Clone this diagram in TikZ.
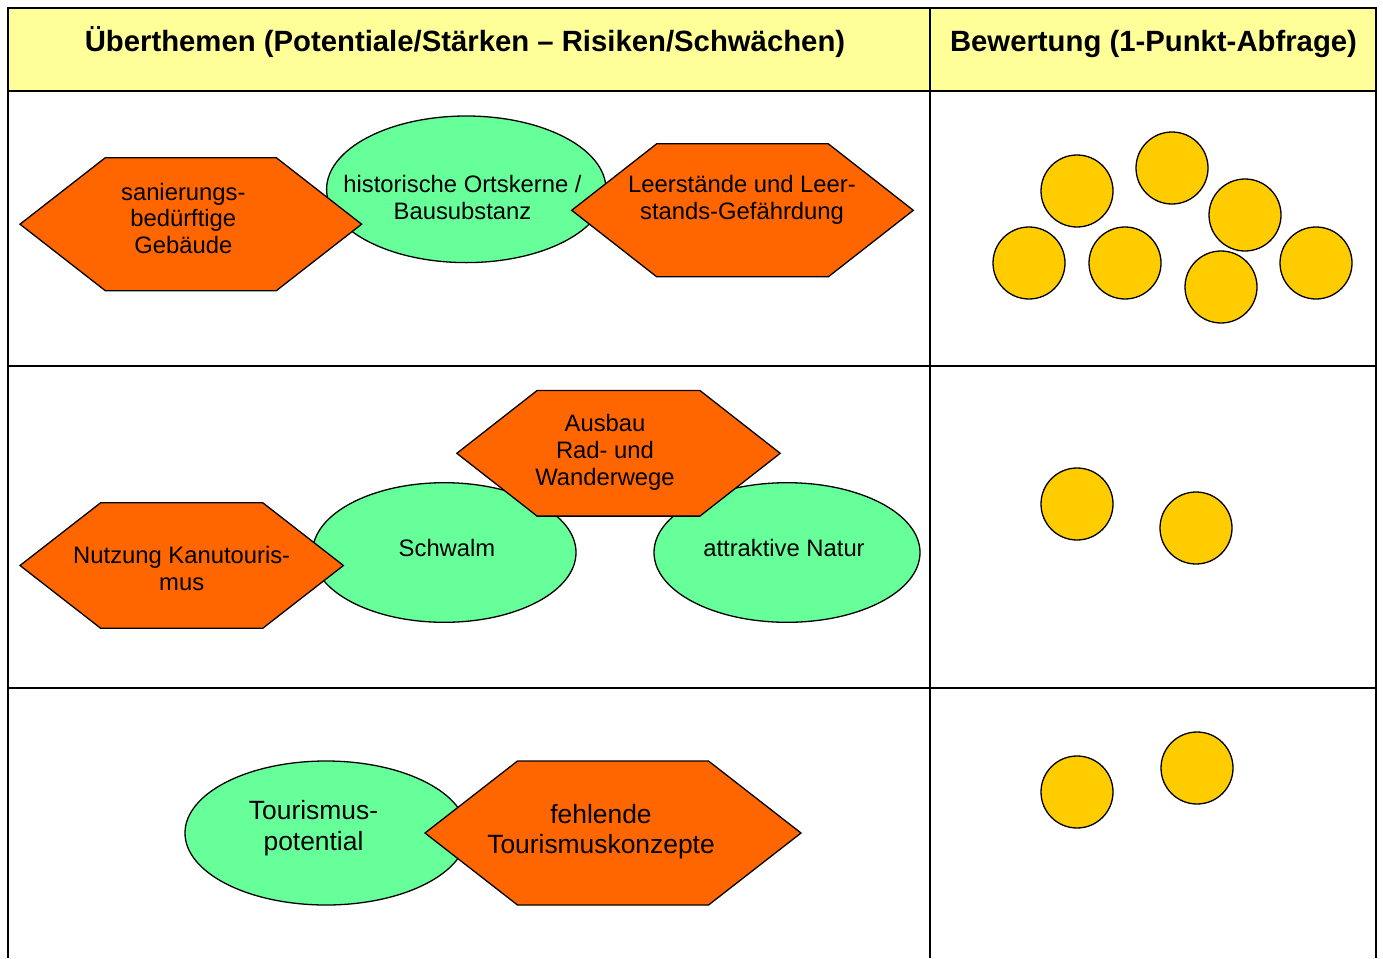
\documentclass[tikz,border=0pt]{standalone}
\usepackage{fontspec}
\setmainfont{Liberation Sans}
\begin{document}
\begin{tikzpicture}[x=1pt,y=-1pt,
  grid/.style={line width=2.2pt,draw=black},
  hdr/.style={font=\bfseries\fontsize{29.3}{33}\selectfont,inner sep=0pt,anchor=base},
  lbl/.style={font=\fontsize{23.8}{26.8}\selectfont,align=center,inner sep=0pt},
  lblbig/.style={font=\fontsize{26.4}{30.5}\selectfont,align=center,inner sep=0pt},
  risk/.style={fill=riskcol,draw=black,line width=1.3pt,line join=miter},
  pot/.style={fill=potcol,draw=black,line width=1.3pt},
  dot/.style={circle,fill=dotcol,draw=black,line width=1.3pt,minimum size=72pt,inner sep=0pt}]
\definecolor{riskcol}{HTML}{FF6600}
\definecolor{potcol}{HTML}{66FF99}
\definecolor{dotcol}{HTML}{FFCC00}
\definecolor{hdrcol}{HTML}{FFFF99}
\newcommand{\hexfill}[5]{% cx cy halfwidth halfheight inset
  \filldraw[risk] ({#1-#3},#2) -- ({#1-#3+#5},{#2-#4}) -- ({#1+#3-#5},{#2-#4})
    -- ({#1+#3},#2) -- ({#1+#3-#5},{#2+#4}) -- ({#1-#3+#5},{#2+#4}) -- cycle;}
\useasboundingbox (0,0) rectangle (1383,958);
\fill[white] (0,0) rectangle (1383,958);
% header
\fill[hdrcol] (8,8) rectangle (1376,91);
% table grid
\draw[grid] (8,958) -- (8,8) -- (1376,8) -- (1376,958);
\draw[grid] (930,8) -- (930,958);
\draw[grid] (8,91) -- (1376,91);
\draw[grid] (8,366) -- (1376,366);
\draw[grid] (8,688) -- (1376,688);
\node[hdr] (h1) at (465,51.5) {Überthemen (Potentiale/Stärken – Risiken/Schwächen)};
\node[hdr] (h2) at (1153.5,51.5) {Bewertung (1-Punkt-Abfrage)};
% row 1
\filldraw[pot] (466.3,189.3) ellipse [x radius=139.7,y radius=73.3];
\hexfill{190.8}{224.2}{170.8}{66.5}{85.3}
\hexfill{742.5}{210.3}{170.8}{66.5}{85}
\node[lbl] (t1) at (183.3,218.3) {sanierungs-\\bedürftige\\Gebäude};
\node[lbl] (t2) at (462.5,197.5) {historische Ortskerne /\\Bausubstanz};
\node[lbl] (t3) at (742,199.5) {Leerstände und Leer-\\stands-Gefährdung};
% row 2
\filldraw[pot] (444.3,552.5) ellipse [x radius=131.7,y radius=69.8];
\filldraw[pot] (787,552.5) ellipse [x radius=133,y radius=69.8];
\hexfill{618.5}{453.3}{161.7}{62.8}{80.3}
\hexfill{181.7}{565.5}{161.7}{62.8}{80.7}
\node[lbl] (t4) at (605,452.5) {Ausbau\\Rad- und\\Wanderwege};
\node[lbl] (t5) at (181.7,568.5) {Nutzung Kanutouris-\\mus};
\node[lbl] (t6) at (447,547.7) {Schwalm};
\node[lbl] (t7) at (784,548) {attraktive Natur};
% row 3
\filldraw[pot] (326,833) ellipse [x radius=141,y radius=72];
\hexfill{613}{833}{188}{72}{92.5}
\node[lblbig] (t8) at (313.5,828) {Tourismus-\\potential};
\node[lblbig] (t9) at (601,831.5) {fehlende\\Tourismuskonzepte};
% dots
\node[dot] (d1) at (1077,191) {};
\node[dot] (d2) at (1172,168) {};
\node[dot] (d3) at (1245,215) {};
\node[dot] (d4) at (1029,263) {};
\node[dot] (d5) at (1125,263) {};
\node[dot] (d6) at (1221,287) {};
\node[dot] (d7) at (1316,263) {};
\node[dot] (d8) at (1077,504) {};
\node[dot] (d9) at (1196,528) {};
\node[dot] (d10) at (1077,792) {};
\node[dot] (d11) at (1197,768) {};
\end{tikzpicture}
\end{document}
